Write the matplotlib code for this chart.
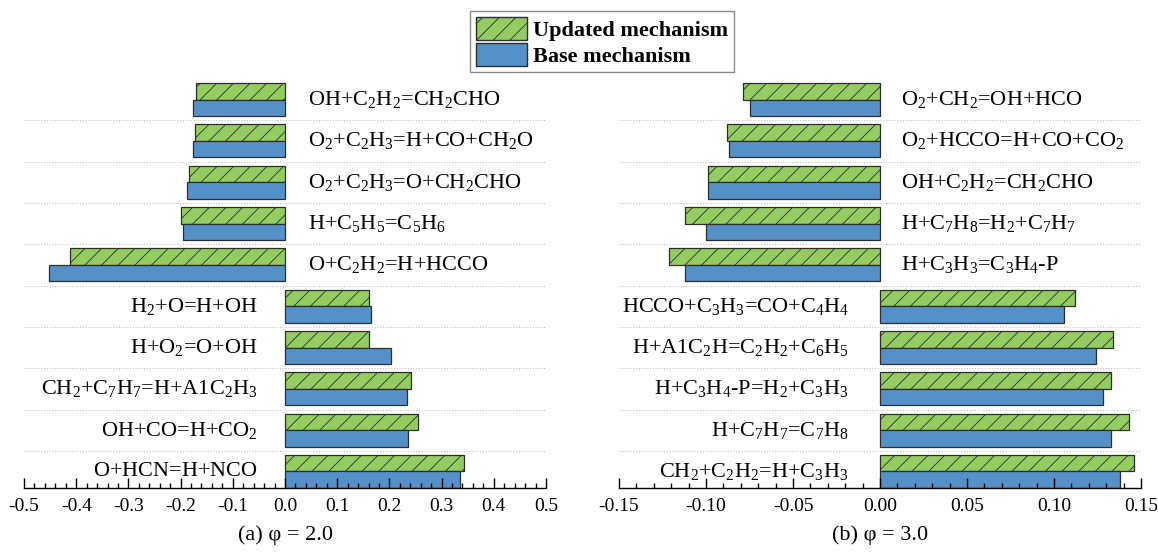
import re
import numpy as np
import matplotlib
matplotlib.use('Agg')
import matplotlib.pyplot as plt
from matplotlib.patches import Patch
from matplotlib.ticker import MultipleLocator, FormatStrFormatter

plt.rcParams['font.family'] = 'Liberation Serif'
plt.rcParams['mathtext.fontset'] = 'custom'
plt.rcParams['mathtext.rm'] = 'Liberation Serif'
plt.rcParams['mathtext.it'] = 'Liberation Serif:italic'
plt.rcParams['mathtext.bf'] = 'Liberation Serif:bold'
plt.rcParams['axes.unicode_minus'] = False
plt.rcParams['hatch.linewidth'] = 0.6

GREEN = '#93cc60'
BLUE = '#5590c9'
EDGE = '#2e2e2e'

# phi = 2.0, rows listed top to bottom
reactions_a = ['OH+C_2H_2=CH_2CHO', 'O_2+C_2H_3=H+CO+CH_2O', 'O_2+C_2H_3=O+CH_2CHO',
               'H+C_5H_5=C_5H_6', 'O+C_2H_2=H+HCCO', 'H_2+O=H+OH', 'H+O_2=O+OH',
               'CH_2+C_7H_7=H+A1C_2H_3', 'OH+CO=H+CO_2', 'O+HCN=H+NCO']
updated_a = [-0.170, -0.173, -0.184, -0.200, -0.411, 0.161, 0.161, 0.241, 0.255, 0.343]
base_a = [-0.177, -0.177, -0.188, -0.196, -0.453, 0.165, 0.204, 0.233, 0.235, 0.335]

# phi = 3.0
reactions_b = ['O_2+CH_2=OH+HCO', 'O_2+HCCO=H+CO+CO_2', 'OH+C_2H_2=CH_2CHO',
               'H+C_7H_8=H_2+C_7H_7', 'H+C_3H_3=C_3H_4-P', 'HCCO+C_3H_3=CO+C_4H_4',
               'H+A1C_2H=C_2H_2+C_6H_5', 'H+C_3H_4-P=H_2+C_3H_3', 'H+C_7H_7=C_7H_8',
               'CH_2+C_2H_2=H+C_3H_3']
updated_b = [-0.079, -0.088, -0.099, -0.112, -0.121, 0.112, 0.134, 0.133, 0.143, 0.146]
base_b = [-0.075, -0.087, -0.099, -0.100, -0.112, 0.106, 0.124, 0.128, 0.1325, 0.138]


def chem(s):
    # turn "C_2H_2" style names into mathtext with subscript numbers
    parts = re.split(r'_(\d)', s)
    out = ''
    for i, p in enumerate(parts):
        if i % 2:
            out += '_{%s}' % p
        elif p:
            out += r'\text{%s}' % p
    return '$' + out + '$'


def draw_panel(ax, reactions, updated, base, xmax, major, minor, fmt,
               gap_neg, gap_pos, caption):
    n = len(reactions)
    y = np.arange(n)[::-1]
    h = 0.4
    ax.barh(y + h / 2, updated, height=h, color=GREEN, edgecolor=EDGE,
            hatch='//', linewidth=0.9)
    ax.barh(y - h / 2, base, height=h, color=BLUE, edgecolor=EDGE, linewidth=0.9)

    for i in range(n - 1):
        ax.axhline(i + 0.5, color='#c4c4c4', lw=0.8, ls=(0, (1, 1.5)), zorder=0.5)

    for yi, name, val in zip(y, reactions, updated):
        if val < 0:
            ax.annotate(chem(name), (0, yi), xytext=(gap_neg, 0), textcoords='offset pixels',
                        ha='left', va='center', fontsize=16)
        else:
            ax.annotate(chem(name), (0, yi), xytext=(-gap_pos, 0), textcoords='offset pixels',
                        ha='right', va='center', fontsize=16)

    ax.set_xlim(-xmax, xmax)
    ax.set_ylim(-0.4, n - 0.5)
    ax.xaxis.set_major_locator(MultipleLocator(major))
    ax.xaxis.set_minor_locator(MultipleLocator(minor))
    ax.xaxis.set_major_formatter(FormatStrFormatter(fmt))
    ax.tick_params(axis='x', which='major', direction='in', length=7, width=1,
                   labelsize=14, pad=7)
    ax.tick_params(axis='x', which='minor', direction='in', length=3.5, width=1)
    ax.set_yticks([])
    for side in ['left', 'right', 'top']:
        ax.spines[side].set_visible(False)
    ax.spines['bottom'].set_linewidth(1)

    # caption under the panel
    box = ax.get_position()
    fig.text(box.x0 + box.width / 2, 18 / 553, caption, ha='center', va='center',
             fontsize=16)


fig = plt.figure(figsize=(11.58, 5.53), dpi=100)
ax1 = fig.add_axes([24 / 1158, 65 / 553, 522 / 1158, 409 / 553])
ax2 = fig.add_axes([619 / 1158, 65 / 553, 522 / 1158, 409 / 553])

draw_panel(ax1, reactions_a, updated_a, base_a, 0.5, 0.1, 0.02, '%.1f',
           23, 27, '(a) φ = 2.0')
draw_panel(ax2, reactions_b, updated_b, base_b, 0.15, 0.05, 0.01, '%.2f',
           21, 31, '(b) φ = 3.0')

handles = [Patch(facecolor=GREEN, edgecolor=EDGE, hatch='//', label='Updated mechanism'),
           Patch(facecolor=BLUE, edgecolor=EDGE, label='Base mechanism')]
leg = fig.legend(handles=handles, loc='upper center', bbox_to_anchor=(602 / 1158, 1 - 11 / 553),
                 prop={'weight': 'bold', 'size': 16}, frameon=True, fancybox=False,
                 framealpha=1, edgecolor='#8a8a8a', borderpad=0.25, labelspacing=0.08,
                 handlelength=2.3, handleheight=1.25, handletextpad=0.3, borderaxespad=0)
leg.get_frame().set_linewidth(1)

fig.savefig('out.png', dpi=100)
